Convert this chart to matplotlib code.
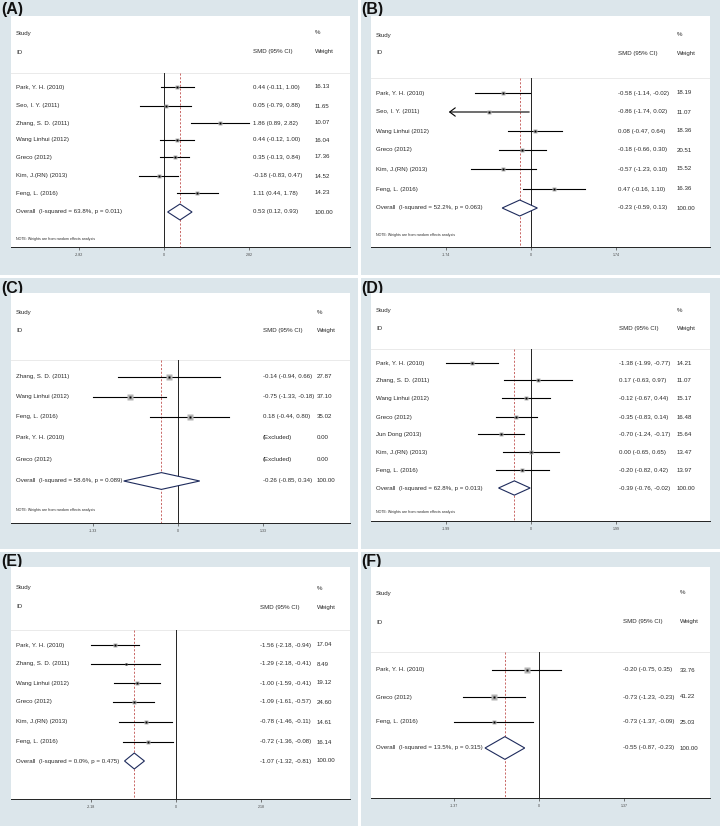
import matplotlib
matplotlib.use("Agg")
import matplotlib.pyplot as plt
from matplotlib.patches import Rectangle, Polygon, FancyArrowPatch
from matplotlib.transforms import blended_transform_factory

plt.rcParams["font.family"] = ["Liberation Sans", "DejaVu Sans"]

W, H = 720, 826
BG = "#DCE6EB"
TXT = "#2A2A2A"
NAVY = "#1E2B5C"
RED = "#C0504D"

# ---- data ----
A_studies = ["Park, Y. H. (2010)", "Seo, I. Y. (2011)", "Zhang, S. D. (2011)", "Wang Linhui (2012)",
             "Greco (2012)", "Kim, J.(RN) (2013)", "Feng, L. (2016)"]
A_est = [0.44, 0.05, 1.86, 0.44, 0.35, -0.18, 1.11]
A_lo = [-0.11, -0.79, 0.89, -0.12, -0.13, -0.83, 0.44]
A_hi = [1.00, 0.88, 2.82, 1.00, 0.84, 0.47, 1.78]
A_wt = [16.13, 11.65, 10.07, 16.04, 17.36, 14.52, 14.23]
A_overall = (0.53, 0.12, 0.93, "63.8%", "0.011")
A_tick = 2.82

B_studies = ["Park, Y. H. (2010)", "Seo, I. Y. (2011)", "Wang Linhui (2012)", "Greco (2012)",
             "Kim, J.(RN) (2013)", "Feng, L. (2016)"]
B_est = [-0.58, -0.86, 0.08, -0.18, -0.57, 0.47]
B_lo = [-1.14, -1.74, -0.47, -0.66, -1.23, -0.16]
B_hi = [-0.02, 0.02, 0.64, 0.30, 0.10, 1.10]
B_wt = [18.19, 11.07, 18.36, 20.51, 15.52, 16.36]
B_overall = (-0.23, -0.59, 0.13, "52.2%", "0.063")
B_tick = 1.74

C_studies = ["Zhang, S. D. (2011)", "Wang Linhui (2012)", "Feng, L. (2016)", "Park, Y. H. (2010)", "Greco (2012)"]
C_est = [-0.14, -0.75, 0.18, None, None]
C_lo = [-0.94, -1.33, -0.44, None, None]
C_hi = [0.66, -0.18, 0.80, None, None]
C_wt = [27.87, 37.10, 35.02, 0.00, 0.00]
C_overall = (-0.26, -0.85, 0.34, "58.6%", "0.089")
C_tick = 1.33

D_studies = ["Park, Y. H. (2010)", "Zhang, S. D. (2011)", "Wang Linhui (2012)", "Greco (2012)",
             "Jun Dong (2013)", "Kim, J.(RN) (2013)", "Feng, L. (2016)"]
D_est = [-1.38, 0.17, -0.12, -0.35, -0.70, 0.00, -0.20]
D_lo = [-1.99, -0.63, -0.67, -0.83, -1.24, -0.65, -0.82]
D_hi = [-0.77, 0.97, 0.44, 0.14, -0.17, 0.65, 0.42]
D_wt = [14.21, 11.07, 15.17, 16.48, 15.64, 13.47, 13.97]
D_overall = (-0.39, -0.76, -0.02, "62.8%", "0.013")
D_tick = 1.99

E_studies = ["Park, Y. H. (2010)", "Zhang, S. D. (2011)", "Wang Linhui (2012)", "Greco (2012)",
             "Kim, J.(RN) (2013)", "Feng, L. (2016)"]
E_est = [-1.56, -1.29, -1.00, -1.09, -0.78, -0.72]
E_lo = [-2.18, -2.18, -1.59, -1.61, -1.46, -1.36]
E_hi = [-0.94, -0.41, -0.41, -0.57, -0.11, -0.08]
E_wt = [17.04, 8.49, 19.12, 24.60, 14.61, 16.14]
E_overall = (-1.07, -1.32, -0.81, "0.0%", "0.475")
E_tick = 2.18

F_studies = ["Park, Y. H. (2010)", "Greco (2012)", "Feng, L. (2016)"]
F_est = [-0.20, -0.73, -0.73]
F_lo = [-0.75, -1.23, -1.37]
F_hi = [0.35, -0.23, -0.09]
F_wt = [33.76, 41.22, 25.03]
F_overall = (-0.55, -0.87, -0.23, "13.5%", "0.315")
F_tick = 1.37

# ---- layout in pixels: cell x, label y, zero px, top, axis, sep, study, id, rows, overall, note, smd x, wt x ----
panels = [
    ("(A)", 0, 2, 164, 16, 247, 73, 33, 52, [87, 106, 123, 140, 157, 176, 193], 212, 239, 253, 315,
     A_studies, A_est, A_lo, A_hi, A_wt, A_overall, A_tick),
    ("(B)", 360, 2, 171, 16, 247, 78, 35, 53, [93, 112, 131, 150, 169, 189], 208, 235, 258, 317,
     B_studies, B_est, B_lo, B_hi, B_wt, B_overall, B_tick),
    ("(C)", 0, 281, 178, 293, 523, 360, 313, 331, [377, 397, 417, 438, 460], 481, 510, 263, 317,
     C_studies, C_est, C_lo, C_hi, C_wt, C_overall, C_tick),
    ("(D)", 360, 281, 171, 293, 521, 349, 310, 328, [363, 380, 398, 417, 434, 452, 470], 488, 512, 259, 317,
     D_studies, D_est, D_lo, D_hi, D_wt, D_overall, D_tick),
    ("(E)", 0, 554, 176, 567, 799, 630, 588, 607, [645, 664, 683, 702, 722, 742], 761, None, 260, 317,
     E_studies, E_est, E_lo, E_hi, E_wt, E_overall, E_tick),
    ("(F)", 360, 554, 179, 567, 798, 652, 593, 622, [670, 697, 722], 748, None, 263, 320,
     F_studies, F_est, F_lo, F_hi, F_wt, F_overall, F_tick),
]

fig = plt.figure(figsize=(W / 100, H / 100), dpi=100)
fig.patch.set_facecolor("white")

bg = fig.add_axes([0, 0, 1, 1])
bg.set_xlim(0, W)
bg.set_ylim(H, 0)
bg.axis("off")

# light blue cells behind each panel
cells = [(0, 0, 358, 275), (361, 0, 359, 275), (0, 278, 358, 271),
         (361, 278, 359, 271), (0, 552, 358, 274), (361, 552, 359, 274)]
for (x, y, w, h) in cells:
    bg.add_patch(Rectangle((x, y), w, h, fc=BG, ec="none"))

PX = 85.0  # pixels per tick step
X0, X1 = 11, 350

for (lab, cx, laby, zero, top, axis_y, sep, y_study, y_id, rows, y_ov, y_note, smd_x, wt_x,
     studies, est, lo, hi, wt, overall, tick) in panels:
    bg.text(cx + 1, laby, lab, ha="left", va="top", fontsize=11.5, fontweight="bold", color="#111111")

    ax = fig.add_axes([(cx + X0) / W, 1 - axis_y / H, (X1 - X0) / W, (axis_y - top) / H])
    ax.set_facecolor("white")
    ax.set_xlim((X0 - zero) * tick / PX, (X1 - zero) * tick / PX)
    ax.set_ylim(axis_y, top)
    for s in ["top", "left", "right"]:
        ax.spines[s].set_visible(False)
    ax.spines["bottom"].set_linewidth(0.7)
    ax.spines["bottom"].set_color("#222222")
    ax.set_yticks([])
    ax.set_xticks([-tick, 0, tick])
    ax.set_xticklabels([f"{-tick:.2f}", "0", f"{tick:.2f}"])
    ax.tick_params(axis="x", length=2.5, width=0.5, labelsize=2.6, pad=2, colors="#444444")

    def fx(px):
        return (px - X0) / (X1 - X0)

    tr = blended_transform_factory(ax.transAxes, ax.transData)
    fs = 4.4

    # header
    ax.text(fx(16), y_study, "Study", transform=tr, fontsize=fs, va="center", color=TXT)
    ax.text(fx(16), y_id, "ID", transform=tr, fontsize=fs, va="center", color=TXT)
    ax.text(fx(smd_x), y_id, "SMD (95% CI)", transform=tr, fontsize=fs, va="center", color=TXT)
    ax.text(fx(wt_x), y_study, "%", transform=tr, fontsize=fs, va="center", color=TXT)
    ax.text(fx(wt_x), y_id, "Weight", transform=tr, fontsize=fs, va="center", color=TXT)
    ax.plot([0, 1], [sep, sep], transform=tr, color="#E6E6E6", lw=0.6, zorder=1)

    # reference lines
    ax.plot([0, 0], [sep, axis_y], color="#222222", lw=0.7, zorder=2)
    ax.plot([overall[0], overall[0]], [sep, axis_y], color=RED, lw=0.6, ls=(0, (2.5, 2)), zorder=2)

    for i, y in enumerate(rows):
        ax.text(fx(16), y, studies[i], transform=tr, fontsize=fs, va="center", color=TXT)
        ax.text(fx(wt_x), y, f"{wt[i]:.2f}", transform=tr, fontsize=fs, va="center", color=TXT)
        if est[i] is None:
            ax.text(fx(smd_x), y, "(Excluded)", transform=tr, fontsize=fs, va="center", color=TXT)
            continue
        ax.text(fx(smd_x), y, f"{est[i]:.2f} ({lo[i]:.2f}, {hi[i]:.2f})", transform=tr,
                fontsize=fs, va="center", color=TXT)
        if lab == "(B)" and lo[i] <= -tick:
            ax.add_patch(FancyArrowPatch((hi[i], y), (lo[i], y), arrowstyle="->,head_length=4,head_width=3",
                                         color="black", lw=0.8, zorder=3))
        else:
            ax.plot([lo[i], hi[i]], [y, y], color="black", lw=0.8, zorder=3)
        ax.plot(est[i], y, marker="s", ms=0.7 * wt[i] ** 0.5, color="#B4B4B4", mec="none", zorder=4)
        ax.plot(est[i], y, marker="s", ms=1.7, color="black", mec="none", zorder=5)

    # overall diamond
    e, l, h, i2, p = overall
    dh = (rows[1] - rows[0]) * 0.42
    ax.add_patch(Polygon([(l, y_ov), (e, y_ov - dh), (h, y_ov), (e, y_ov + dh)], closed=True,
                         fc="white", ec=NAVY, lw=0.8, zorder=4))
    ax.text(fx(16), y_ov, f"Overall  (I-squared = {i2}, p = {p})", transform=tr, fontsize=fs,
            va="center", color=TXT)
    ax.text(fx(smd_x), y_ov, f"{e:.2f} ({l:.2f}, {h:.2f})", transform=tr, fontsize=fs,
            va="center", color=TXT)
    ax.text(fx(wt_x), y_ov, "100.00", transform=tr, fontsize=fs, va="center", color=TXT)

    if y_note is not None:
        ax.text(fx(16), y_note, "NOTE: Weights are from random effects analysis", transform=tr,
                fontsize=2.6, va="center", color=TXT)

fig.savefig("out.png", dpi=100, facecolor=fig.get_facecolor())
